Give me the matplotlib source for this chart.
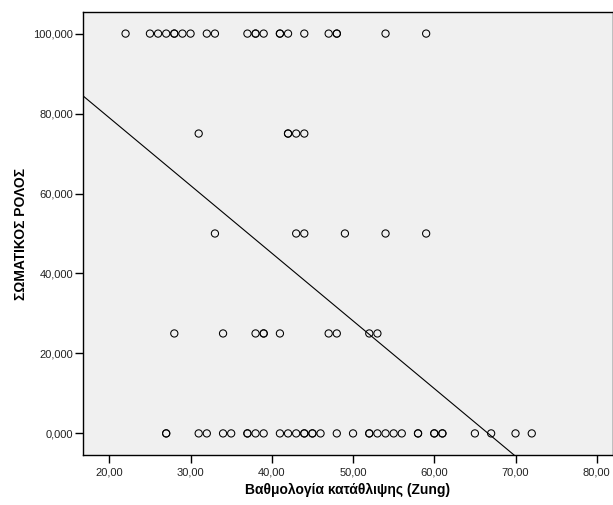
import matplotlib
matplotlib.use("Agg")
import matplotlib.pyplot as plt
import numpy as np
from matplotlib.ticker import FuncFormatter

plt.rcParams['font.family'] = ['Liberation Sans', 'DejaVu Sans']

# Data (depression score x, somatic role y)
x_at_100 = [22, 25, 26, 27, 28, 28, 29, 30, 32, 33, 37, 38, 38, 39, 41, 41, 42, 44, 47, 48, 48, 54, 59]
x_at_75 = [31, 42, 42, 43, 44]
x_at_50 = [33, 43, 44, 49, 54, 59]
x_at_25 = [28, 34, 38, 39, 39, 41, 47, 48, 52, 53]
x_at_0 = [27, 27, 31, 32, 34, 35, 37, 37, 38, 39, 41, 42, 43, 44, 44, 45, 45, 46, 48, 50,
          52, 52, 53, 54, 55, 56, 58, 58, 60, 60, 61, 61, 65, 67, 70, 72]
y_levels = [100, 75, 50, 25, 0]

# Fit line
fit_slope = -1.693
fit_intercept = 112.8

x_ticks = [20, 30, 40, 50, 60, 70, 80]
y_ticks = [0, 20, 40, 60, 80, 100]

xs = []
ys = []
for lvl, arr in zip(y_levels, [x_at_100, x_at_75, x_at_50, x_at_25, x_at_0]):
    xs += arr
    ys += [lvl] * len(arr)

fig = plt.figure(figsize=(6.13, 5.05), dpi=100)
ax = fig.add_axes([83/613, 50/505, 530/613, 443/505])
ax.set_facecolor('#F0F0F0')

xlim = (16.76, 82.0)
ylim = (-5.4, 105.4)
ax.set_xlim(*xlim)
ax.set_ylim(*ylim)

ax.scatter(xs, ys, s=27, facecolors='none', edgecolors='black', linewidths=0.75, zorder=3)

lx = np.array(xlim)
ax.plot(lx, fit_intercept + fit_slope * lx, color='black', linewidth=0.8, zorder=2)

ax.set_xticks(x_ticks)
ax.set_yticks(y_ticks)
ax.xaxis.set_major_formatter(FuncFormatter(lambda v, p: f"{v:.2f}".replace('.', ',')))
ax.yaxis.set_major_formatter(FuncFormatter(lambda v, p: f"{v:.3f}".replace('.', ',')))
ax.tick_params(axis='both', direction='out', length=5.5, width=1, color='black',
               labelsize=8, labelcolor='#222222', pad=1.5)
ax.tick_params(axis='x', pad=3.5)

for s in ax.spines.values():
    s.set_linewidth(1.0)
    s.set_color('black')

ax.set_xlabel('Βαθμολογία κατάθλιψης (Zung)', fontsize=10, fontweight='bold')
ax.set_ylabel('ΣΩΜΑΤΙΚΟΣ ΡΟΛΟΣ', fontsize=10, fontweight='bold')
ax.xaxis.set_label_coords(0.5, -0.063)
ax.yaxis.set_label_coords(-0.104, 0.5)

fig.savefig('out.png', dpi=100)
